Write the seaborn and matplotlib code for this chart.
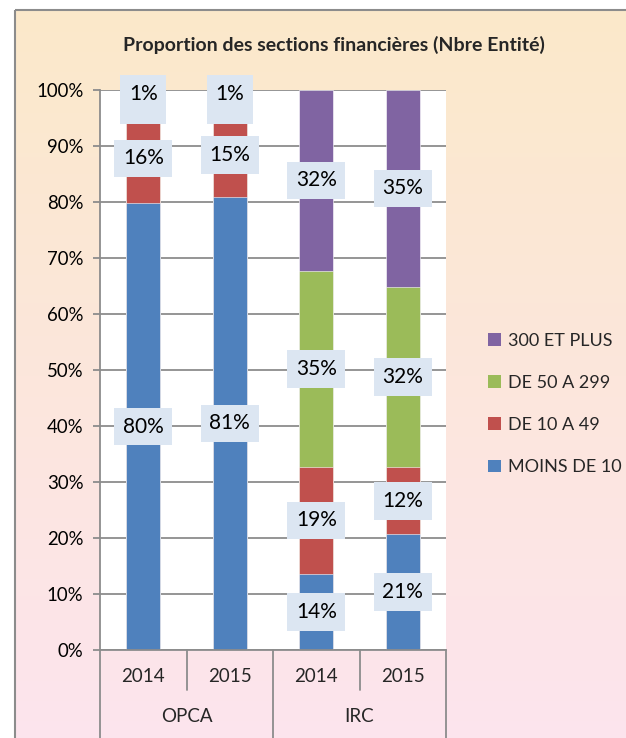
import numpy as np
import pandas as pd
import matplotlib
matplotlib.use("Agg")
import matplotlib.pyplot as plt
import seaborn as sns
from matplotlib.patches import Patch, Rectangle
from matplotlib.ticker import PercentFormatter

# ---- data ----
groups = ["OPCA", "OPCA", "IRC", "IRC"]
years = ["2014", "2015", "2014", "2015"]
series = ["MOINS DE 10", "DE 10 A 49", "DE 50 A 299", "300 ET PLUS"]
moins_de_10 = [79.8, 80.9, 13.6, 20.7]
de_10_a_49 = [16.0, 15.0, 19.1, 11.9]
de_50_a_299 = [2.8, 2.7, 35.0, 32.3]
plus_300 = [1.4, 1.4, 32.3, 35.1]
colors = ["#4F81BD", "#C0504D", "#9BBB59", "#8064A2"]
title = "Proportion des sections financières (Nbre Entité)"

values = [moins_de_10, de_10_a_49, de_50_a_299, plus_300]
cats = [f"{g} {y}" for g, y in zip(groups, years)]

rows = []
for i, c in enumerate(cats):
    cum = 0.0
    for s, vals in zip(series, values):
        v = vals[i]
        rows.append(dict(cat=c, series=s, value=v, bottom=cum, top=cum + v))
        cum += v
df = pd.DataFrame(rows)

# ---- style ----
sns.set_style("white")
plt.rcParams["font.family"] = ["Lato", "DejaVu Sans"]

W, H = 626, 738
fig = plt.figure(figsize=(W / 100, H / 100), dpi=100)

# background gradient + frame
bg = fig.add_axes([0, 0, 1, 1], zorder=-10)
bg.set_xlim(0, W)
bg.set_ylim(H, 0)
bg.axis("off")
top_c = np.array([251, 233, 202]) / 255
bot_c = np.array([253, 228, 238]) / 255
t = np.linspace(0, 1, 256)[:, None]
grad = (top_c[None, :] * (1 - t) + bot_c[None, :] * t)[:, None, :]
bg.imshow(grad, extent=[15, W + 5, H + 5, 10], aspect="auto", interpolation="bilinear")
bg.add_patch(Rectangle((15, 10), W, H, fill=False, edgecolor="#8C8C8C", lw=1.5))

# main axes
L, R, T, B = 100, 446, 90, 650
ax = fig.add_axes([L / W, (H - B) / H, (R - L) / W, (B - T) / H])
ax.set_facecolor("white")

for s, col in reversed(list(zip(series, colors))):
    sub = df[df.series == s]
    sns.barplot(data=sub, x="cat", y="top", order=cats, color=col, saturation=1,
                width=0.39, errorbar=None, ax=ax, zorder=2,
                edgecolor="#FFFFFF", linewidth=0.4)

ax.set_xlim(-0.5, 3.5)
ax.set_ylim(0, 100)
ax.set_yticks(np.arange(0, 101, 10))
ax.yaxis.set_major_formatter(PercentFormatter(100, decimals=0))
ax.grid(axis="y", color="#8C8C8C", lw=1.3, zorder=0)
ax.set_axisbelow(True)
ax.tick_params(axis="y", left=True, length=5, width=1.3, color="#8C8C8C",
               pad=7, labelsize=13.4, labelcolor="#000000")
ax.set_xticks([])
ax.set_xlabel("")
ax.set_ylabel("")
for sp in ["top", "right"]:
    ax.spines[sp].set_visible(False)
for sp in ["left", "bottom"]:
    ax.spines[sp].set_color("#8C8C8C")
    ax.spines[sp].set_linewidth(1.3)

# data labels (drawn bottom to top so upper boxes cover lower ones, as in the source)
for i, c in enumerate(cats):
    sub = df[df.cat == c]
    for _, r in sub.iterrows():
        ax.text(i, (r.bottom + r.top) / 2, f"{round(r.value)}%", ha="center", va="center",
                fontsize=15, color="#000000", zorder=6,
                bbox=dict(boxstyle="square,pad=0.42", facecolor="#DCE6F2", edgecolor="none"))

# two-level category axis
trans = ax.get_xaxis_transform()
y_inner = -40 / (B - T)
y_outer = -88 / (B - T)
for xb in [-0.5, 1.5, 3.5]:
    ax.plot([xb, xb], [0, y_outer], transform=trans, color="#8C8C8C", lw=1.3, clip_on=False)
for xb in [0.5, 2.5]:
    ax.plot([xb, xb], [0, y_inner], transform=trans, color="#8C8C8C", lw=1.3, clip_on=False)
for i, y in enumerate(years):
    ax.text(i, -26 / (B - T), y, transform=trans, ha="center", va="center", fontsize=13.5)
group_names = list(dict.fromkeys(groups))
for gname in group_names:
    idx = [i for i, g in enumerate(groups) if g == gname]
    ax.text(np.mean(idx), -67 / (B - T), gname, transform=trans, ha="center", va="center",
            fontsize=13.5)

# title
fig.text(334 / W, 1 - 45 / H, title, ha="center", va="center", fontsize=14, fontweight="bold")

# legend
handles = [Patch(facecolor=c, edgecolor="none", label=s)
           for s, c in reversed(list(zip(series, colors)))]
fig.legend(handles=handles, loc="center left", bbox_to_anchor=(481 / W, 1 - 404 / H),
           frameon=False, fontsize=13, handlelength=0.7, handleheight=0.7,
           handletextpad=0.4, labelspacing=1.45, borderaxespad=0)

fig.savefig("out.png", dpi=100)
